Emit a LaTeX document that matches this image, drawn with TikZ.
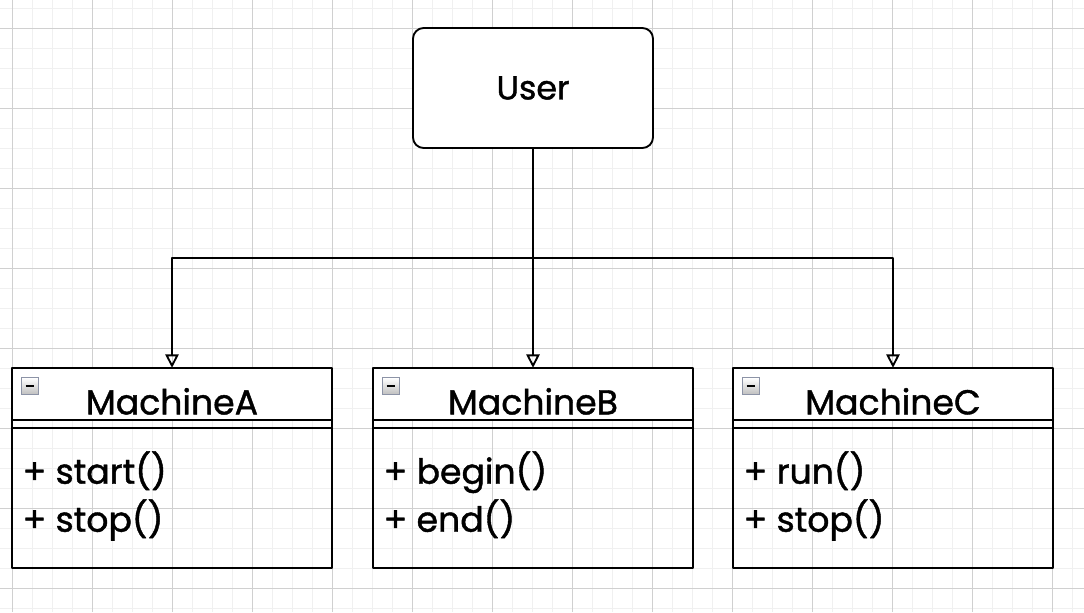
\documentclass[tikz,border=0pt]{standalone}
\usepackage{fontspec}
\setmainfont{Poppins}
\newfontfamily\hand{Poppins}[FakeBold=1.2]
\usetikzlibrary{arrows.meta}
\definecolor{gridminor}{HTML}{F0F0F0}
\definecolor{gridmajor}{HTML}{D0D0D0}
\definecolor{iconedge}{HTML}{8C93A6}
\tikzset{
  edge/.style={line width=1.4pt, black, line cap=round, line join=round},
  userbox/.style={edge, draw, fill=white, rounded corners=8pt, minimum width=180pt, minimum height=90pt, inner sep=0pt, font=\hand\fontsize{25}{30}\selectfont},
  classbox/.style={minimum width=240pt, minimum height=150pt, inner sep=0pt},
  title/.style={anchor=base, font=\hand\fontsize{26}{30}\selectfont},
  member/.style={anchor=base west, font=\hand\fontsize{26}{30}\selectfont, inner sep=0pt},
  conn/.style={edge, -{Triangle[open, length=10pt, width=10pt]}},
  minus/.style={draw=iconedge, line width=0.9pt, top color=white, bottom color=gray!50}
}
\begin{document}
\begin{tikzpicture}[x=0.75pt, y=-0.75pt]
\useasboundingbox (0,0) rectangle (1084,612);
\fill[white] (0,0) rectangle (1084,612);
\foreach \x in {12,32,...,1084} \draw[gridminor, line width=0.75pt] (\x,0) -- (\x,612);
\foreach \y in {8,28,...,612} \draw[gridminor, line width=0.75pt] (0,\y) -- (1084,\y);
\foreach \x in {12,92,...,1084} \draw[gridmajor, line width=0.75pt] (\x,0) -- (\x,612);
\foreach \y in {28,108,...,612} \draw[gridmajor, line width=0.75pt] (0,\y) -- (1084,\y);

\node[userbox] (user) at (533,88) {User};

\foreach \n/\cx/\t/\ma/\mb in {ma/172/MachineA/start()/stop(), mb/533/MachineB/begin()/end(), mc/893/MachineC/run()/stop()}{
  \node[classbox] (\n) at (\cx,468) {};
  \fill[white] (\n.north west) rectangle ([yshift=-39pt]\n.north east);
  \draw[edge] (\n.north west) rectangle (\n.south east);
  \draw[edge] ([yshift=-39pt]\n.north west) -- ([yshift=-39pt]\n.north east);
  \draw[edge] ([yshift=-45pt]\n.north west) -- ([yshift=-45pt]\n.north east);
  \draw[minus] ([xshift=7.5pt,yshift=-7.5pt]\n.north west) rectangle ([xshift=20pt,yshift=-20pt]\n.north west);
  \draw[black, line width=1.2pt] ([xshift=10.5pt,yshift=-13.75pt]\n.north west) -- ([xshift=17pt,yshift=-13.75pt]\n.north west);
  \node[title] (\n-t) at ([yshift=-35pt]\n.north) {\t};
  \node[member] (\n-a) at ([xshift=8pt,yshift=-87pt]\n.north west) {+ \ma};
  \node[member] (\n-b) at ([xshift=8pt,yshift=-123pt]\n.north west) {+ \mb};
}

\coordinate (split) at (533,258);
\draw[conn] (user.south) -- (split) -| (ma.north);
\draw[conn] (user.south) -- (mb.north);
\draw[conn] (user.south) -- (split) -| (mc.north);
\end{tikzpicture}
\end{document}
